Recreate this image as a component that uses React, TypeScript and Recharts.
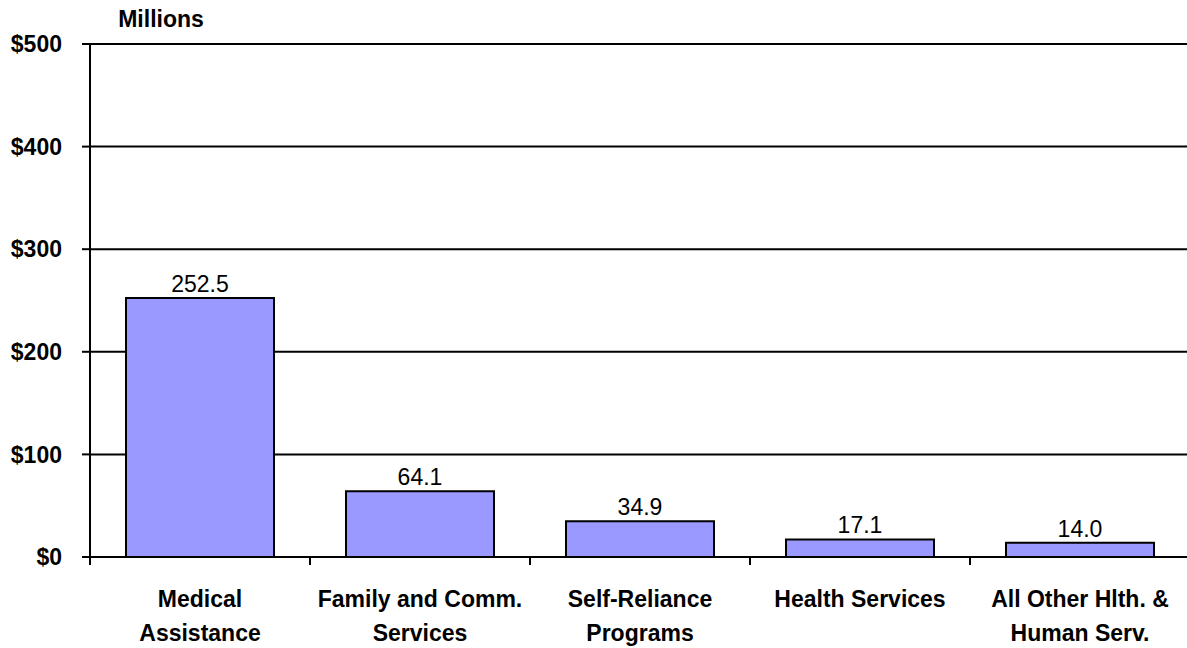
import {
  BarChart,
  Bar,
  XAxis,
  YAxis,
  CartesianGrid,
  LabelList,
} from "recharts";

const categories = [
  "Medical\nAssistance",
  "Family and Comm.\nServices",
  "Self-Reliance\nPrograms",
  "Health Services",
  "All Other Hlth. &\nHuman Serv.",
];

const values = [252.5, 64.1, 34.9, 17.1, 14.0];

const yTicks = [0, 100, 200, 300, 400, 500];

const data = categories.map((name, i) => ({ name, value: values[i] }));

const FONT = "'Liberation Sans', Arial, sans-serif";

function CategoryTick(props: any) {
  const { x, y, payload } = props;
  const half = payload?.offset ?? 110;
  const lines = String(payload.value).split("\n");
  return (
    <g>
      <line
        x1={x - half}
        x2={x - half}
        y1={y - 8}
        y2={y}
        stroke="#000"
        strokeWidth={2}
      />
      <text
        x={x}
        y={y}
        textAnchor="middle"
        fontSize={23}
        fontWeight="bold"
        fill="#000"
        fontFamily={FONT}
      >
        {lines.map((l, i) => (
          <tspan key={i} x={x} dy={i === 0 ? 42 : 34}>
            {l}
          </tspan>
        ))}
      </text>
    </g>
  );
}

function MillionsLabel(props: any) {
  const vb = props.viewBox || { x: 0, width: 90 };
  return (
    <text
      x={vb.x + vb.width + 71}
      y={27}
      textAnchor="middle"
      fontSize={23}
      fontWeight="bold"
      fill="#000"
      fontFamily={FONT}
    >
      Millions
    </text>
  );
}

export default function App() {
  return (
    <div
      style={{
        position: "fixed",
        left: 0,
        top: 0,
        width: 1187,
        height: 648,
        overflow: "hidden",
        background: "#fff",
        fontFamily: FONT,
      }}
    >
      <BarChart
        width={1190}
        height={648}
        data={data}
        margin={{ top: 44, right: 0, left: 0, bottom: 0 }}
        barCategoryGap={36}
      >
        <CartesianGrid
          vertical={false}
          stroke="#000"
          strokeWidth={2}
        />
        <XAxis
          dataKey="name"
          height={91}
          interval={0}
          tickLine={false}
          tickSize={8}
          tickMargin={0}
          axisLine={{ stroke: "#000", strokeWidth: 2 }}
          tick={<CategoryTick />}
        />
        <YAxis
          width={90}
          domain={[0, 500]}
          ticks={yTicks}
          interval={0}
          tickFormatter={(v: number) => `$${v}`}
          tickSize={8}
          tickMargin={20}
          axisLine={{ stroke: "#000", strokeWidth: 2 }}
          tickLine={{ stroke: "#000", strokeWidth: 2 }}
          tick={{
            fill: "#000",
            fontSize: 23,
            fontWeight: "bold",
            fontFamily: FONT,
          }}
          label={<MillionsLabel />}
        />
        <Bar
          dataKey="value"
          fill="#9999FF"
          stroke="#000"
          strokeWidth={2}
          isAnimationActive={false}
        >
          <LabelList
            dataKey="value"
            position="top"
            offset={6}
            formatter={(v: any) => Number(v).toFixed(1)}
            fill="#000"
            fontSize={23}
            fontFamily={FONT}
          />
        </Bar>
      </BarChart>
    </div>
  );
}
